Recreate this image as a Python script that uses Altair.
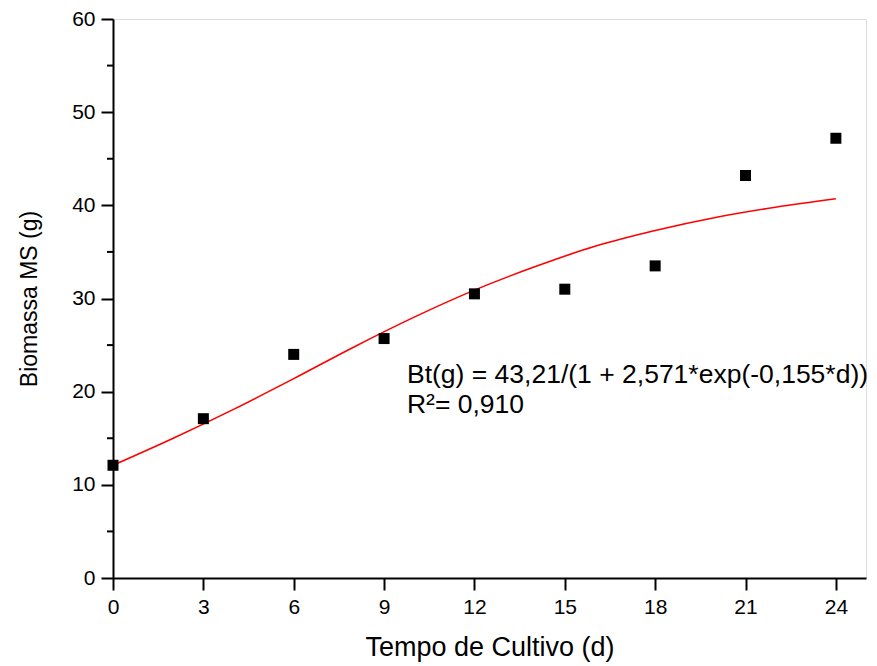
import altair as alt
import pandas as pd

days = [0, 3, 6, 9, 12, 15, 18, 21, 24]
biomass = [12.1, 17.1, 24.0, 25.7, 30.5, 31.0, 33.5, 43.2, 47.2]

# Fitted curve
curve_days = [0, 2, 4, 6, 8, 10, 12, 14, 16, 18, 20, 22, 24]
curve_vals = [12.1, 15.0, 18.1, 21.4, 24.8, 28.0, 30.9, 33.4, 35.6, 37.3, 38.7, 39.8, 40.7]

# Annotation
ann_text = ["Bt(g) = 43,21/(1 + 2,571*exp(-0,155*d))", "R²= 0,910"]
ann_x = [9.76, 9.76]
ann_y = [20.95, 17.7]

x_ticks = [0, 3, 6, 9, 12, 15, 18, 21, 24]
y_ticks = [0, 10, 20, 30, 40, 50, 60]
y_minor = [5, 15, 25, 35, 45, 55]

FONT = "Liberation Sans"

pts = pd.DataFrame({"d": days, "b": biomass})
cur = pd.DataFrame({"d": curve_days, "b": curve_vals})
ann = pd.DataFrame({"t": ann_text, "x": ann_x, "y": ann_y})
minor = pd.DataFrame({"y": y_minor})

xs = alt.Scale(domain=[0, 25], nice=False, zero=False)
ys = alt.Scale(domain=[0, 60], nice=False)

xaxis = alt.Axis(values=x_ticks, title="Tempo de Cultivo (d)", grid=False,
                 tickSize=12, labelPadding=6, titlePadding=17, labelFlush=False,
                 labelFontSize=21, titleFontSize=27, titleFontWeight="normal",
                 labelFont=FONT, titleFont=FONT, domainColor="black",
                 tickColor="black", labelColor="black", titleColor="black",
                 domainWidth=2, tickWidth=2)
yaxis = alt.Axis(values=y_ticks, title="Biomassa MS (g)", grid=False,
                 tickSize=12, labelPadding=6, titlePadding=30, labelFlush=False,
                 labelFontSize=21, titleFontSize=23, titleFontWeight="normal",
                 labelFont=FONT, titleFont=FONT, domainColor="black",
                 tickColor="black", labelColor="black", titleColor="black",
                 domainWidth=2, tickWidth=2)

line = alt.Chart(cur).mark_line(color="#ff0000", strokeWidth=1.6, interpolate="monotone").encode(
    x=alt.X("d:Q", scale=xs, axis=xaxis),
    y=alt.Y("b:Q", scale=ys, axis=yaxis),
)

points = alt.Chart(pts).mark_point(shape="square", filled=True, color="black", size=121, opacity=1).encode(
    x=alt.X("d:Q", scale=xs),
    y=alt.Y("b:Q", scale=ys),
)

minor_ticks = alt.Chart(minor).mark_rule(color="black", strokeWidth=2).encode(
    y=alt.Y("y:Q", scale=ys),
    x=alt.value(-6),
    x2=alt.value(0),
)

text = alt.Chart(ann).mark_text(align="left", baseline="alphabetic", fontSize=26.5,
                                font=FONT, color="black").encode(
    x=alt.X("x:Q", scale=xs),
    y=alt.Y("y:Q", scale=ys),
    text="t:N",
)

chart = alt.layer(line, points, minor_ticks, text).properties(
    width=753, height=559,
    padding={"left": 113, "top": 19, "right": 11, "bottom": 88},
    autosize=alt.AutoSizeParams(type="none"),
).configure_view(stroke=None).configure(background="white")

chart.save("out.html", embed_options={"renderer": "svg", "actions": False})
